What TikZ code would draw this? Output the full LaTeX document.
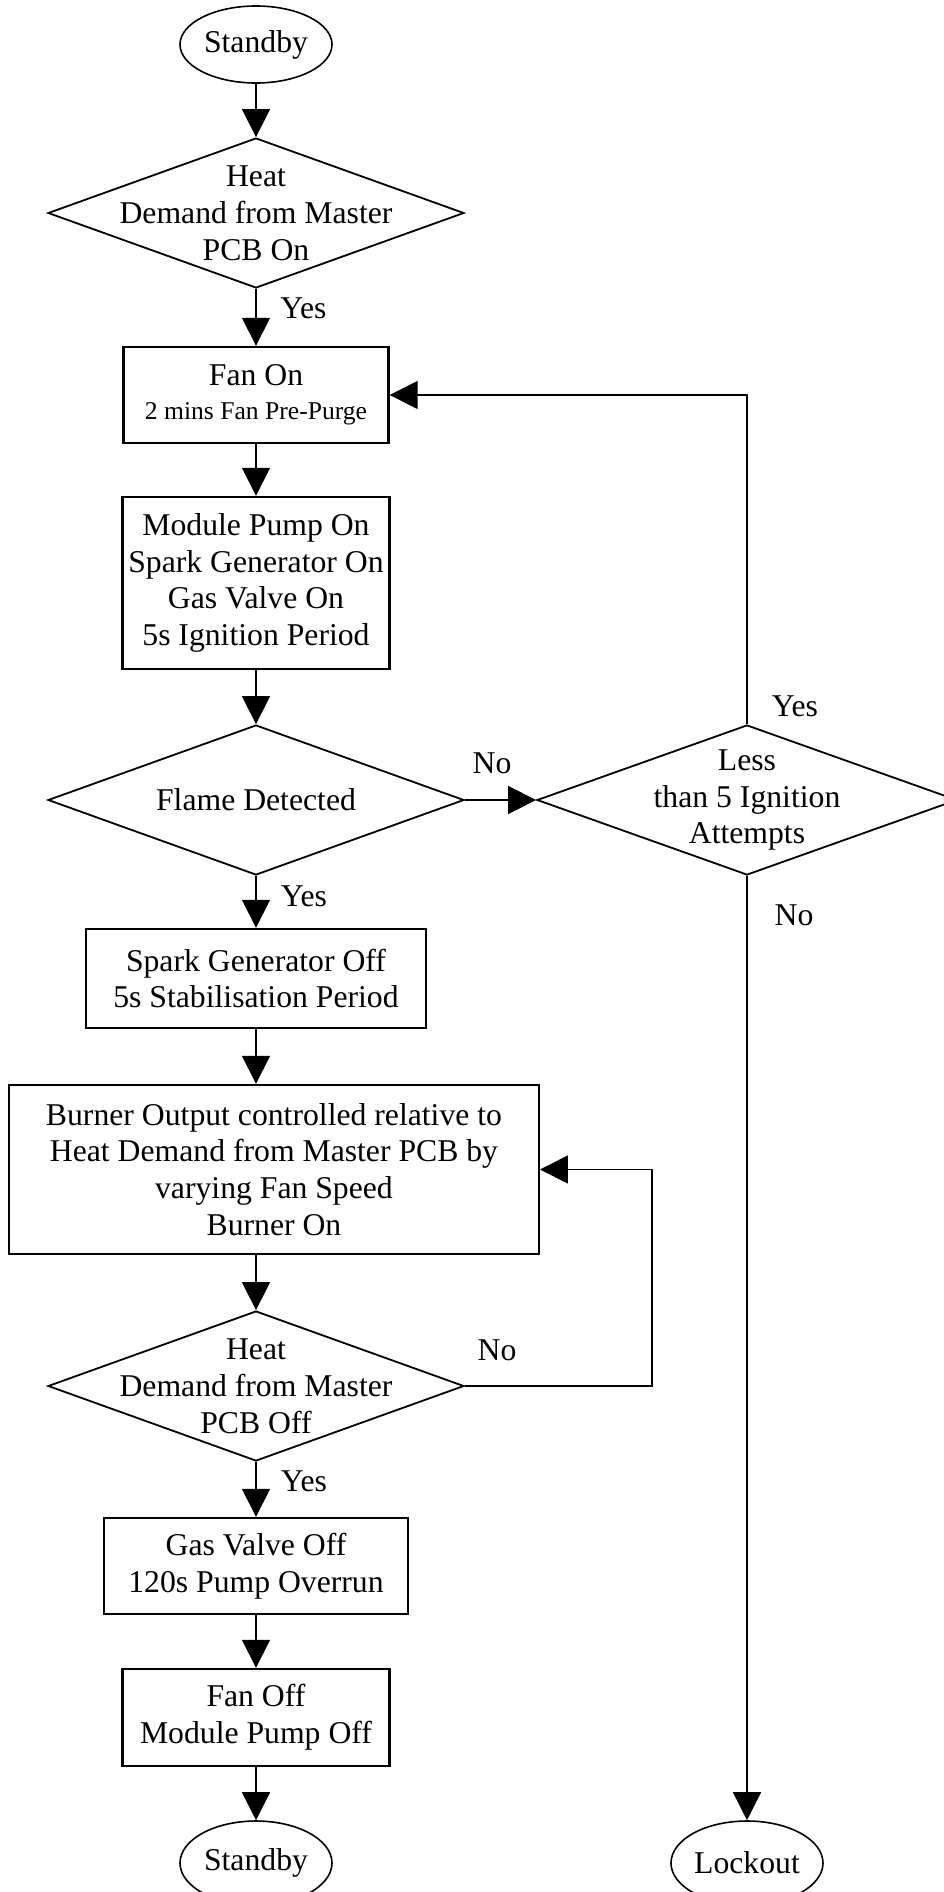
\documentclass[tikz,border=0pt]{standalone}
\usepackage{fontspec}
\setmainfont{Liberation Serif}
\usetikzlibrary{shapes.geometric,arrows.meta}
\begin{document}
\begin{tikzpicture}[x=1bp,y=-1bp,
  every node/.style={font=\fontsize{31.7bp}{36.8bp}\selectfont, inner sep=0pt},
  box/.style={draw, line width=2.4bp, rectangle, align=center},
  dia/.style={draw, line width=1.8bp, diamond},
  ell/.style={draw, line width=1.6bp, ellipse},
  dtext/.style={align=center},
  conn/.style={line width=1.6bp, -{Triangle[length=28bp,width=28bp]}}
]
\useasboundingbox (0,0) rectangle (944,1892);

% start
\node[ell, minimum width=152bp, minimum height=77bp] (sb1) at (256,44.5) {Standby};

% decision 1
\node[dia, minimum width=416bp, minimum height=150bp] (d1) at (256,213) {};
\node[dtext] (d1t) at (d1.center) {Heat\\Demand from Master\\PCB On};

% fan on
\node[box, minimum width=265bp, minimum height=96bp] (fan) at (256,395)
  {Fan On\\[-2.8bp]{\fontsize{25.6bp}{30bp}\selectfont 2 mins Fan Pre-Purge}};

% module pump
\node[box, minimum width=267bp, minimum height=172bp] (mod) at (256,583)
  {Module Pump On\\Spark Generator On\\Gas Valve On\\5s Ignition Period};

% flame detected
\node[dia, minimum width=416bp, minimum height=150bp] (flame) at (256,800) {};
\node[dtext] (flamet) at (flame.center) {Flame Detected};

% less than 5
\node[dia, minimum width=420bp, minimum height=150bp] (less) at (747,800) {};
\node[dtext] (lesst) at (less.center) {Less\\than 5 Ignition\\Attempts};

% spark off
\node[box, minimum width=340bp, minimum height=99bp] (spark) at (256,978.5)
  {Spark Generator Off\\5s Stabilisation Period};

% burner
\node[box, minimum width=529.5bp, minimum height=169bp] (burner) at (274,1169.5)
  {Burner Output controlled relative to\\Heat Demand from Master PCB by\\varying Fan Speed\\Burner On};

% decision 3
\node[dia, minimum width=416bp, minimum height=150bp] (d3) at (256,1386) {};
\node[dtext] (d3t) at (d3.center) {Heat\\Demand from Master\\PCB Off};

% gas valve off
\node[box, minimum width=304bp, minimum height=96bp] (gas) at (256,1566)
  {Gas Valve Off\\120s Pump Overrun};

% fan off
\node[box, minimum width=267bp, minimum height=97bp] (fanoff) at (256,1717.5)
  {Fan Off\\Module Pump Off};

% ends
\node[ell, minimum width=152bp, minimum height=84bp] (sb2) at (256,1863) {Standby};
\node[ell, minimum width=152bp, minimum height=84bp] (lock) at (747,1863) {Lockout};

% connectors
\draw[conn] (sb1.south) -- (d1.north);
\draw[conn] (d1.south) -- (fan.north);
\draw[conn] (fan.south) -- (mod.north);
\draw[conn] (mod.south) -- (flame.north);
\draw[conn] (flame.south) -- (spark.north);
\draw[conn] (spark.south) -- (spark.south |- burner.north);
\draw[conn] (d3 |- burner.south) -- (d3.north);
\draw[conn] (d3.south) -- (gas.north);
\draw[conn] (gas.south) -- (fanoff.north);
\draw[conn] (fanoff.south) -- (sb2.north);
\draw[conn] (flame.east) -- (less.west);
\draw[conn] (less.north) |- (fan.east);
\draw[conn] (less.south) -- (lock.north);
\coordinate (loopR) at (652,1386);
\draw[conn] (d3.east) -- (loopR) |- (burner.east);

% labels
\node (y1) at (303.5,308.5) {Yes};
\node (n1) at (492,763) {No};
\node (y2) at (795,706) {Yes};
\node (n2) at (794,915) {No};
\node (y3) at (304,896) {Yes};
\node (n3) at (497,1350) {No};
\node (y4) at (304,1481) {Yes};
\end{tikzpicture}
\end{document}
